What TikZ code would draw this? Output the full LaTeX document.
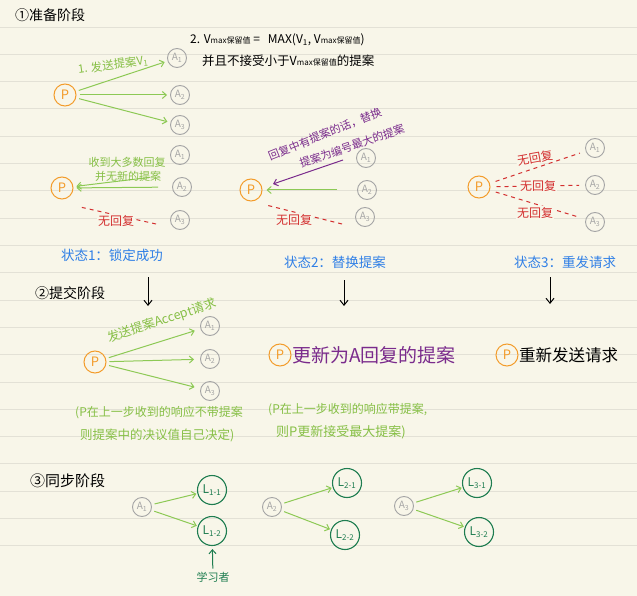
\documentclass[tikz,border=0pt]{standalone}
\usepackage{fontspec}
\setmainfont{Noto Sans CJK SC}
\usetikzlibrary{arrows.meta}
\definecolor{bg}{HTML}{F8F6E9}
\definecolor{rulec}{HTML}{E3E1D6}
\definecolor{gline}{HTML}{8DC955}
\definecolor{gtext}{HTML}{86BF45}
\definecolor{porange}{HTML}{F39C2B}
\definecolor{accgray}{HTML}{A5A5A5}
\definecolor{rred}{HTML}{D32F2F}
\definecolor{ppurple}{HTML}{7A2B8C}
\definecolor{bblue}{HTML}{2F7FE6}
\definecolor{lgreen}{HTML}{1E7D50}
\newcommand\fs[1]{\fontsize{#1}{#1}\selectfont}
\newcommand\smallsub[1]{{\fontsize{8}{8}\selectfont #1}}
\begin{document}
\begin{tikzpicture}[x=1pt,y=-1pt,
  accnode/.style={circle, draw=accgray, text=accgray, line width=0.9pt, minimum size=19pt, inner sep=0pt, font=\fs{10}},
  propnode/.style={circle, draw=porange, text=porange, line width=1pt, minimum size=22pt, inner sep=0pt, font=\fs{13}},
  learnnode/.style={circle, draw=lgreen, text=lgreen, line width=1.1pt, minimum size=29pt, inner sep=0pt, font=\fs{12}},
  garrow/.style={draw=gline, line width=1pt, -{Straight Barb[length=4pt,width=7pt]}, shorten >=3pt, shorten <=3pt},
  parrow/.style={draw=ppurple, line width=1pt, -{Straight Barb[length=4pt,width=7pt]}},
  rdash/.style={draw=rred, line width=1pt, dash pattern=on 4pt off 4pt, shorten >=6pt, shorten <=6pt},
  karrow/.style={draw=black, line width=1pt, -{Straight Barb[length=5pt,width=8pt]}},
  title/.style={text=black, font=\fs{14}, anchor=west, inner sep=0pt},
  gnote/.style={text=gtext, font=\fs{12}, inner sep=0pt},
  rlabel/.style={text=rred, font=\fs{12}, fill=bg, inner sep=1pt},
  status/.style={text=bblue, font=\fs{13.5}, inner sep=0pt}
]
\fill[bg] (0,0) rectangle (637,596);
\useasboundingbox (0,0) rectangle (637,596);
\foreach \k in {0,...,19} \draw[rulec, line width=0.8pt] (0,{27+27.3*\k}) -- (637,{27+27.3*\k});

% ---------- section 1 ----------
\node[title] (t1) at (15,15) {①准备阶段};
\node[text=black, font=\fs{12}, anchor=west, inner sep=0pt] (f1) at (190,40) {2. V\smallsub{max保留值} =\ \ \ MAX(V\textsubscript{1}, V\smallsub{max保留值})};
\node[text=black, font=\fs{12.5}, anchor=west, inner sep=0pt] (f2) at (202,61) {并且不接受小于V\smallsub{max保留值}的提案};

\node[propnode] (P1) at (65,95) {P};
\node[accnode] (a11) at (177,58) {A\textsubscript{1}};
\node[accnode] (a12) at (180,95) {A\textsubscript{2}};
\node[accnode] (a13) at (180,125) {A\textsubscript{3}};
\draw[garrow] (P1) -- (a11);
\draw[garrow] (P1) -- (a12);
\draw[garrow] (P1) -- (a13);
\node[gnote, font=\fs{11.5}, rotate=8] (l1) at (113,65) {1. 发送提案V\textsubscript{1}};

% state 1
\node[propnode] (P2) at (62,188) {P};
\node[accnode] (a21) at (180,155) {A\textsubscript{1}};
\node[accnode] (a22) at (182,187) {A\textsubscript{2}};
\node[accnode] (a23) at (180,220) {A\textsubscript{3}};
\coordinate (m2) at (153,177);
\draw[garrow] (m2) -- (P2);
\draw[garrow, shorten <=14pt] (a22) -- (P2);
\node[gnote, font=\fs{11}] (n2a) at (127,162) {收到大多数回复};
\node[gnote, font=\fs{11}] (n2b) at (128,176) {并无新的提案};
\coordinate (r2a) at (156,224);
\coordinate (r2b) at (80,207);
\draw[rdash, shorten >=0pt, shorten <=0pt] (r2a) -- (r2b);
\node[rlabel] (r2) at (116,221) {无回复};

% state 2
\node[propnode] (P3) at (251,190) {P};
\node[accnode] (a31) at (366,158) {A\textsubscript{1}};
\node[accnode] (a32) at (367,190) {A\textsubscript{2}};
\node[accnode] (a33) at (365,217) {A\textsubscript{3}};
\draw[garrow, shorten <=20pt, shorten >=4pt] (a32) -- (P3);
\coordinate (m3a) at (343,160);
\coordinate (m3b) at (273,184);
\draw[parrow] (m3a) -- (m3b);
\node[text=ppurple, font=\fs{11}, rotate=22, inner sep=0pt] (p3a) at (325,134) {回复中有提案的话，替换};
\node[text=ppurple, font=\fs{11}, rotate=19, inner sep=0pt] (p3b) at (352,146) {提案为编号最大的提案};
\coordinate (r3a) at (342,224);
\coordinate (r3b) at (266,205);
\draw[rdash, shorten >=0pt, shorten <=0pt] (r3a) -- (r3b);
\node[rlabel] (r3) at (294,220) {无回复};

% state 3
\node[propnode] (P4) at (479,187) {P};
\node[accnode] (a41) at (595,148) {A\textsubscript{1}};
\node[accnode] (a42) at (595,185) {A\textsubscript{2}};
\node[accnode] (a43) at (595,222) {A\textsubscript{3}};
\draw[rdash] (P4) -- (a41);
\draw[rdash] (P4) -- (a42);
\draw[rdash] (P4) -- (a43);
\node[rlabel, rotate=10] (r4a) at (535,158) {无回复};
\node[rlabel] (r4b) at (538,186) {无回复};
\node[rlabel] (r4c) at (535,213) {无回复};

% status labels
\node[status] (s1) at (112,255) {状态1：锁定成功};
\node[status] (s2) at (335,262) {状态2：替换提案};
\node[status] (s3) at (565,262) {状态3：重发请求};
\coordinate (d1a) at (148,277);
\coordinate (d1b) at (148,306);
\coordinate (d2a) at (344,280);
\coordinate (d2b) at (344,306);
\coordinate (d3a) at (550,277);
\coordinate (d3b) at (550,304);
\draw[karrow] (d1a) -- (d1b);
\draw[karrow] (d2a) -- (d2b);
\draw[karrow] (d3a) -- (d3b);

% ---------- section 2 ----------
\node[title] (t2) at (35,293) {②提交阶段};
\node[propnode] (P5) at (95,362) {P};
\node[accnode] (a51) at (210,326) {A\textsubscript{1}};
\node[accnode] (a52) at (210,359) {A\textsubscript{2}};
\node[accnode] (a53) at (210,391) {A\textsubscript{3}};
\draw[garrow, shorten >=6pt] (P5) -- (a51);
\draw[garrow, shorten >=6pt] (P5) -- (a52);
\draw[garrow, shorten >=6pt] (P5) -- (a53);
\node[gnote, font=\fs{12.5}, rotate=18] (l5) at (162,321) {发送提案Accept请求};
\node[gnote, anchor=west] (n5a) at (75,413) {(P在上一步收到的响应不带提案};
\node[gnote, anchor=west, font=\fs{12.5}] (n5b) at (80,435) {则提案中的决议值自己决定)};

\node[propnode] (P6) at (280,355) {P};
\node[text=ppurple, font=\fs{19}, anchor=west, inner sep=0pt] (t6) at (292,355) {更新为A回复的提案};
\node[propnode] (P7) at (507,355) {P};
\node[text=black, font=\fs{16.5}, anchor=west, inner sep=0pt] (t7) at (519,355) {重新发送请求};
\node[gnote, anchor=west] (n6a) at (268,410) {(P在上一步收到的响应带提案,};
\node[gnote, anchor=west, font=\fs{13}] (n6b) at (276,432) {则P更新接受最大提案)};

% ---------- section 3 ----------
\node[title, font=\fs{15}] (t3) at (30,481) {③同步阶段};
\node[accnode] (a61) at (142,507) {A\textsubscript{1}};
\node[learnnode] (l11) at (212,490) {L\textsubscript{1-1}};
\node[learnnode] (l12) at (212,531) {L\textsubscript{1-2}};
\draw[garrow, shorten >=1pt] (a61) -- (l11);
\draw[garrow, shorten >=1pt] (a61) -- (l12);
\node[text=lgreen, font=\fs{11}, inner sep=0pt] (lab) at (213,577) {学习者};
\draw[draw=lgreen, line width=1pt, -{Straight Barb[length=4pt,width=7pt]}, shorten >=3pt, shorten <=3pt] (lab) -- (l12);

\node[accnode] (a62) at (272,507) {A\textsubscript{2}};
\node[learnnode] (l21) at (347,483) {L\textsubscript{2-1}};
\node[learnnode] (l22) at (345,535) {L\textsubscript{2-2}};
\draw[garrow, shorten >=1pt] (a62) -- (l21);
\draw[garrow, shorten >=1pt] (a62) -- (l22);

\node[accnode] (a63) at (404,506) {A\textsubscript{3}};
\node[learnnode] (l31) at (477,483) {L\textsubscript{3-1}};
\node[learnnode] (l32) at (479,532) {L\textsubscript{3-2}};
\draw[garrow, shorten >=1pt] (a63) -- (l31);
\draw[garrow, shorten >=1pt] (a63) -- (l32);
\end{tikzpicture}
\end{document}
